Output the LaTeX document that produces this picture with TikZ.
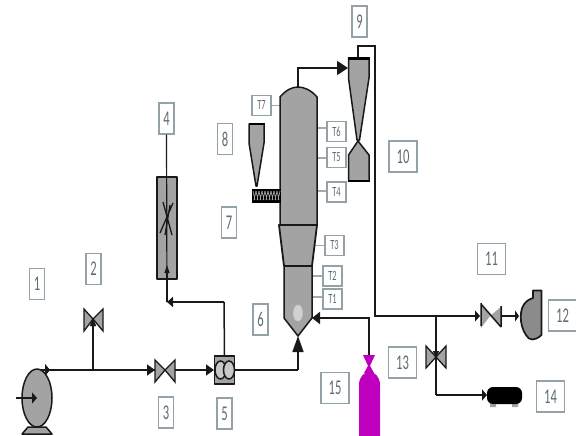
\documentclass[tikz,border=0pt]{standalone}
\usepackage{fontspec}
\setmainfont{Carlito}
\usetikzlibrary{arrows.meta,patterns}
\definecolor{labline}{HTML}{93A1A8}
\definecolor{labtext}{HTML}{5E6C72}
\definecolor{shapegray}{HTML}{A3A3A3}
\definecolor{tline}{HTML}{A8A8A8}
\definecolor{gasmag}{HTML}{BE00BE}
\newcommand{\narrow}[1]{\scalebox{.6}[1]{#1}}
\tikzset{
  x=1pt,y=-1pt,
  numlab/.style={draw=labline,line width=1.2pt,fill=white,inner sep=0pt,minimum width=15pt,minimum height=31pt,text=labtext,font=\fontsize{21}{21}\selectfont},
  widelab/.style={numlab,minimum width=28pt},
  tlab/.style={draw=labline,line width=1.2pt,fill=white,inner sep=0pt,minimum width=19pt,minimum height=20pt,text=labtext,font=\fontsize{14}{14}\selectfont},
  pipe/.style={draw=black!90,line width=1.5pt},
  flow/.style={pipe,-{Triangle[length=8pt,width=11pt]}},
  flowbig/.style={pipe,line width=1.8pt,-{Triangle[length=8pt,width=13pt]}},
  sensor/.style={draw=tline,line width=1.3pt},
  equip/.style={draw=black!90,fill=shapegray,line width=1.5pt,line join=round},
  valvetri/.style={draw=black!90,fill=shapegray,line width=1.3pt},
}
\begin{document}
\begin{tikzpicture}
\useasboundingbox (0,0) rectangle (576,436);
% junction coordinates
\coordinate (inlet) at (16,398);
\coordinate (blowc) at (37,398);
\coordinate (blowout) at (33,370);
\coordinate (tee2) at (93,370);
\coordinate (v2c) at (93,319);
\coordinate (v3c) at (165,370);
\coordinate (p5c) at (224.5,370);
\coordinate (p5up) at (224,302);
\coordinate (rotb) at (167,302);
\coordinate (nozzle) at (298,336);
\coordinate (under) at (298,370);
\coordinate (coltop) at (298,87);
\coordinate (colbend) at (298,68);
\coordinate (cycin) at (348,68);
\coordinate (cycout) at (358,58);
\coordinate (c9a) at (358,46);
\coordinate (c9b) at (375,46);
\coordinate (c9c) at (375,316);
\coordinate (tee13) at (436,316);
\coordinate (v11c) at (490,316);
\coordinate (v13c) at (436,357);
\coordinate (c14) at (436,395);
\coordinate (tank) at (487,395);
\coordinate (fan) at (519,316);
\coordinate (gasin) at (369,355);
\coordinate (gasbend) at (369,318);
\coordinate (gastip) at (312,318);

% labels
\node[numlab] (n1) at (37,284) {\narrow{1}};
\node[numlab] (n2) at (93.5,269) {\narrow{2}};
\node[numlab] (n3) at (166,412.5) {\narrow{3}};
\node[numlab] (n4) at (166.5,118.5) {\narrow{4}};
\node[numlab] (n5) at (224.5,413.5) {\narrow{5}};
\node[numlab] (n6) at (260.5,319.5) {\narrow{6}};
\node[numlab] (n7) at (229,222.5) {\narrow{7}};
\node[numlab] (n8) at (225,139) {\narrow{8}};
\node[numlab] (n9) at (359.5,21.5) {\narrow{9}};
\node[widelab] (n10) at (403,156.5) {\narrow{10}};
\node[widelab] (n11) at (491.5,259) {\narrow{11}};
\node[widelab] (n12) at (562.5,315.5) {\narrow{12}};
\node[widelab] (n13) at (402.5,362.5) {\narrow{13}};
\node[widelab] (n14) at (550.5,396.5) {\narrow{14}};
\node[widelab] (n15) at (335,388) {\narrow{15}};

% sensor tags
\node[tlab] (t7) at (261.5,105.5) {\narrow{T7}};
\node[tlab] (t6) at (336.5,131.5) {\narrow{T6}};
\node[tlab] (t5) at (336.5,157.5) {\narrow{T5}};
\node[tlab] (t4) at (336.5,192) {\narrow{T4}};
\node[tlab] (t3) at (334.5,245.5) {\narrow{T3}};
\node[tlab] (t2) at (332.5,276) {\narrow{T2}};
\node[tlab] (t1) at (332.5,299) {\narrow{T1}};
\draw[sensor] (t7.east) -- (280,105.5);
\draw[sensor] (317,128) -- (t6.west |- 317,128);
\draw[sensor] (317,158) -- (t5.west |- 317,158);
\draw[sensor] (317,191) -- (t4.west |- 317,191);
\draw[sensor] (314,245.5) -- (t3.west);
\draw[sensor] (312,276) -- (t2.west);
\draw[sensor] (312,297) -- (t1.west |- 312,297);

% rotameter
\draw[equip,line width=1.8pt] (157,177) rectangle (177,279);
\draw[pipe,line width=1.2pt] (n4.south) -- (rotb);
\draw[pipe,line width=1.2pt,-{Triangle[length=8pt,width=5pt]}] (rotb) -- (167,265);
\draw[black!90,line width=1.3pt] (173,203) -- (160,233) (163,202) -- (172,235) (170,205) -- (165,235);
% blower 1
\draw[pipe] (blowout) -- (v3c);
\draw[flow,-{Triangle[length=5pt,width=12pt]}] (blowout) -- (50,370);
\draw[equip,fill=shapegray] (22,434) -- (28,427) -- (46,427) -- (52,434) -- cycle;
\draw[equip] (blowc) ellipse [x radius=15,y radius=29];
\draw[flow,-{Triangle[length=5pt,width=11pt]}] (inlet) -- (blowc);
% line to valve 2
\draw[pipe,line width=1.2pt,-{Triangle[length=7pt,width=6pt]}] (tee2) -- (v2c);
\draw[valvetri] (v2c) -- (84,309) -- (84,331) -- cycle;
\draw[valvetri] (v2c) -- (103,309) -- (103,331) -- cycle;
\draw[pipe,line width=1.2pt,-{Triangle[length=7pt,width=6pt]}] (93,330) -- (v2c);
% valve 3
\draw[flow] (tee2) -- (155,370);
\draw[valvetri] (v3c) -- (155,360) -- (155,382) -- cycle;
\draw[valvetri] (v3c) -- (175,360) -- (175,382) -- cycle;
\draw[flow] (175,370) -- (214,370);
% pump 5
\draw[pipe,-{Triangle[length=6pt,width=10pt]}] (p5up) -- (rotb);
\draw[pipe] (p5c |- 0,355) -- (p5up);
\draw[equip,line width=1.9pt] (214.5,356) rectangle (234.5,384);
\draw[black!90,line width=1.5pt,fill=shapegray!60] (220.5,370) ellipse [x radius=5.5,y radius=9];
\draw[black!90,line width=1.5pt,fill=shapegray!60] (229,370) ellipse [x radius=5.5,y radius=9];
\draw[pipe] (234.5,370) -- (under);
\draw[flow,-{Triangle[length=16pt,width=11pt]}] (under) -- (nozzle);
% column
\draw[flowbig,-{Triangle[length=11pt,width=14pt]}] (coltop) -- (colbend) -- (cycin);
\draw[equip] (280,225) -- (280,97) .. controls (286,90) and (292,87) .. (coltop) .. controls (304,87) and (311,90) .. (317,97) -- (317,225) -- cycle;
\draw[equip,line width=1.8pt] (279,225) -- (317,225) -- (312,266) -- (284,266) -- cycle;
\draw[equip] (284,266) -- (312,266) -- (312,318) -- (298,336) -- (284,318) -- cycle;
\draw[draw=shapegray!60,fill=shapegray!50,line width=.8pt] (298,313) ellipse [x radius=4.5,y radius=8];
% hopper 8 and screw
\draw[equip] (249,124) -- (264,124) -- (264,143) -- (257,186) -- (256,186) -- (249,143) -- cycle;
\draw[black,line width=2.2pt] (248.5,124) -- (264.5,124);
\draw[black,fill=black,line width=1pt] (252,189) rectangle (280,202);
\foreach \i in {0,...,8}{
  \draw[shapegray,line width=.7pt] (253+\i*3,191) -- (255+\i*3,200) (256+\i*3,191) -- (254+\i*3,200);
}
% cyclone 9
\draw[pipe,line width=1.6pt] (cycout) -- (c9a) -- (c9b) -- (c9c) -- (tee13);
\draw[equip] (348.5,58) -- (369,58) -- (369,78) -- (359.5,140) -- (357,140) -- (348.5,78) -- cycle;
\draw[black,line width=2.4pt] (348,58.5) -- (369.5,58.5);
\draw[equip] (358,141) -- (369,155) -- (369,181) -- (348.5,181) -- (348.5,155) -- cycle;
\draw[black,line width=2.2pt] (348,181) -- (369.5,181);
% right side
\draw[flow,-{Triangle[length=5pt,width=11pt]}] (tee13) -- (480,316);
\fill[shapegray] (481,316) -- (481,304) -- (490,316) -- (481,328) -- cycle;
\fill[shapegray] (490,316) -- (502,306) -- (502,326) -- cycle;
\draw[black!90,line width=1.5pt] (481,303) -- (481,326) (481,304) -- (501,327) (501,306) -- (501,327);
\draw[flow,-{Triangle[length=4pt,width=11pt]}] (502,316) -- (fan);
\draw[equip,line width=1.7pt,fill=shapegray!85!black] (533,290.5) -- (541.5,290.5) -- (541.5,335) .. controls (535,341) and (529,341) .. (526,335) .. controls (519,325) and (519,308) .. (526,302) .. controls (529,299) and (531,299) .. (533,298) -- cycle;
\draw[pipe,line width=1.2pt,-{Triangle[length=6pt,width=6pt]}] (tee13) -- (v13c);
\draw[valvetri] (v13c) -- (426,346) -- (426,368) -- cycle;
\draw[valvetri] (v13c) -- (446,346) -- (446,368) -- cycle;
\draw[pipe,line width=1.2pt,-{Triangle[length=6pt,width=6pt]}] (436,350) -- (v13c);
\draw[pipe] (v13c) -- (c14);
\draw[flow,-{Triangle[length=5pt,width=11pt]}] (c14) -- (tank);
\fill[shapegray] (490,400) rectangle (496,407) (512,400) rectangle (518,407);
\fill[black,rounded corners=6pt] (487,387) rectangle (522,404);
% gas cylinder
\draw[flowbig,-{Triangle[length=8pt,width=12pt]}] (gasin) -- (gasbend) -- (gastip);
\fill[gasmag] (363,355) -- (375,355) -- (369,368) -- cycle;
\fill[gasmag] (369,364) -- (374,373) -- (364,373) -- cycle;
\fill[gasmag] (359,436) -- (359,385) .. controls (359,377) and (364,372) .. (369.5,372) .. controls (375,372) and (380,377) .. (380,385) -- (380,436) -- cycle;
\end{tikzpicture}
\end{document}
